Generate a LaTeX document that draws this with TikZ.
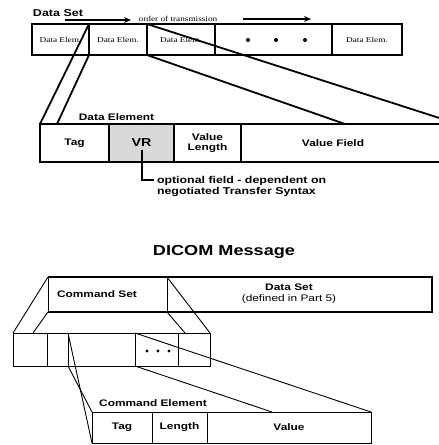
\documentclass[tikz,border=0pt]{standalone}
\usepackage{fontspec}
\setmainfont{Liberation Sans}
\newfontfamily\wsans[FakeStretch=1.25]{Liberation Sans}
\newfontfamily\wserif[FakeStretch=1.25]{Liberation Serif}
\usetikzlibrary{arrows.meta,calc}
\begin{document}
\begin{tikzpicture}[x=1pt,y=-1pt,
  every node/.style={inner sep=0pt, outer sep=0pt},
  toprow/.style={draw, line width=1.5pt, minimum height=31pt, font=\wserif\fontsize{7.4}{8}\selectfont},
  decell/.style={draw, line width=2pt, minimum height=38pt, font=\wsans\bfseries\fontsize{9.5}{10.5}\selectfont, align=center},
  lbl/.style={font=\wsans\bfseries\fontsize{9.5}{11}\selectfont},
  lcell/.style={draw, line width=0.9pt, font=\wsans\bfseries\fontsize{9.5}{11}\selectfont},
  link/.style={line width=1.8pt},
  tlink/.style={line width=0.9pt},
  arr/.style={-{Stealth[length=7pt,width=6pt]}, line width=1.6pt},
]
\useasboundingbox (0,0) rectangle (439,445);
\clip (0,0) rectangle (439,445);

% ---------- top: data set ----------
\node[lbl, font=\wsans\bfseries\fontsize{10}{12}\selectfont] (dstitle) at (58,13) {Data Set};
\coordinate (a1s) at (65,20);
\coordinate (a1e) at (131,20);
\coordinate (a2s) at (243,19);
\coordinate (a2e) at (311,19);
\draw[arr] (a1s) -- (a1e);
\node[font=\wserif\fontsize{7.4}{8}\selectfont] (order) at (178,19) {order of transmission};
\draw[arr, line width=1.2pt] (a2s) -- (a2e);

\node[toprow, minimum width=57pt] (b1) at (60.5,39.5) {Data Elem.};
\node[toprow, minimum width=58pt] (b2) at (118,39.5) {Data Elem.};
\node[toprow, minimum width=68pt] (b3) at (181,39.5) {Data Elem.};
\node[toprow, minimum width=117pt] (b4) at (273.5,39.5) {};
\node[toprow, minimum width=70pt] (b5) at (367,39.5) {Data Elem.};
\fill (248,40) circle (2pt) (276,40) circle (2pt) (305,40) circle (2pt);

% ---------- data element ----------
\node[lbl] (delabel) at (116.5,117) {Data Element};
\node[decell, minimum width=69pt] (t) at (74.5,143) {Tag};
\node[decell, minimum width=65pt, fill=black!15, font=\wsans\bfseries\fontsize{11.5}{12}\selectfont] (vr) at (141.5,143) {VR};
\node[decell, minimum width=67pt] (vl) at (207.5,143) {Value\\Length};
\node[decell, minimum width=217pt] (vf) at (349.5,143) {};
\node[lbl] (vftext) at (333,143) {Value Field};

\coordinate (lend) at (154,180);
\draw[line width=2pt] ([yshift=-7pt]vr.center) |- (lend);
\node[lbl, anchor=west, align=left, font=\wsans\bfseries\fontsize{9.9}{11}\selectfont] (note) at (157,186.5)
  {optional field - dependent on\\negotiated Transfer Syntax};

\coordinate (p1) at (57,124);
\coordinate (p2) at (345,124);
\draw[link] (b2.north west) -- (t.north west);
\draw[link] (b2.south west) -- (p1);
\draw[link] (b3.south west) -- (p2);
\draw[link] (b3.north west) -- (vf.north east);

% ---------- DICOM message ----------
\node[font=\wsans\bfseries\fontsize{14.5}{16}\selectfont] (title) at (224,252) {DICOM Message};

\node[lcell, minimum width=119pt, minimum height=35pt] (cs) at (107.5,294.5) {};
\node[lcell, minimum width=265pt, minimum height=35pt] (ds) at (299.5,294.5) {};
\draw[line width=1.6pt] (cs.north west) -- (ds.north east) -- (ds.south east) -- (cs.south west);
\node[lbl] (cstext) at (97,294) {Command Set};
\node[lbl, align=center] (dstext) at (289,293.5) {Data Set\\{\mdseries (defined in Part 5)}};

\node[lcell, minimum width=34pt, minimum height=33pt] (c1) at (30,349.5) {};
\node[lcell, minimum width=21pt, minimum height=33pt] (c2) at (57.5,349.5) {};
\node[lcell, minimum width=67pt, minimum height=33pt] (c3) at (101.5,349.5) {};
\node[lcell, minimum width=43pt, minimum height=33pt] (c4) at (156.5,349.5) {};
\node[lcell, minimum width=32pt, minimum height=33pt] (c5) at (194,349.5) {};
\fill (147,351) circle (1.6pt) (158,351) circle (1.6pt) (169,351) circle (1.6pt);

\coordinate (q1) at (33,333);
\coordinate (q2) at (185,333);
\draw[tlink] (cs.north west) -- (c1.north west);
\draw[tlink] (cs.south west) -- (q1);
\draw[tlink] (cs.north east) -- (c5.north east);
\draw[tlink] (cs.south east) -- (q2);

% ---------- command element ----------
\node[lbl] (celabel) at (153,403) {Command Element};
\node[lcell, minimum width=60pt, minimum height=31pt] (ct) at (122,427.5) {Tag};
\node[lcell, minimum width=55pt, minimum height=31pt] (cl) at (179.5,427.5) {Length};
\node[lcell, minimum width=164pt, minimum height=31pt] (cv) at (289,427.5) {Value};

\coordinate (r1) at (272,412);
\draw[tlink] (c3.north west) -- (ct.south west);
\draw[tlink] (c3.south west) -- (ct.north west);
\draw[tlink] (c4.north west) -- (cv.north east);
\draw[tlink] (c4.south west) -- (r1);
\end{tikzpicture}
\end{document}
